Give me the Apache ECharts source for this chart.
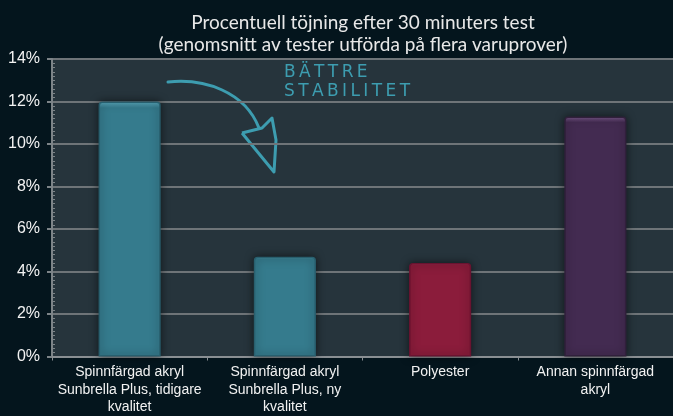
<!DOCTYPE html>
<html>
<head>
<meta charset="utf-8">
<script src="https://cdn.jsdelivr.net/npm/echarts@6/dist/echarts.min.js"></script>
<style>
html,body{margin:0;padding:0;background:#04151d;}
#c{width:673px;height:416px;}
</style>
</head>
<body>
<div id="c"></div>
<script>
const titleLines = ['Procentuell töjning efter 30 minuters test', '(genomsnitt av tester utförda på flera varuprover)'];
const categories = ['Spinnfärgad akryl\nSunbrella Plus, tidigare\nkvalitet', 'Spinnfärgad akryl\nSunbrella Plus, ny\nkvalitet', 'Polyester', 'Annan spinnfärgad\nakryl'];
const values = [12.0, 4.7, 4.4, 11.3];
const yTicks = [0, 2, 4, 6, 8, 10, 12, 14];
const annotation = ['BÄTTRE', 'STABILITET'];

const palette = [
  ['#285f6e', '#357b8d', '#5aa9bd'],
  ['#285f6e', '#357b8d', '#5aa9bd'],
  ['#6a1330', '#8b1c3b', '#c04565'],
  ['#30203b', '#432b51', '#7a5a8c']
];

function barStyle(p) {
  return {
    color: {
      type: 'linear', x: 0, y: 0, x2: 0, y2: 1,
      colorStops: [
        {offset: 0, color: p[2]},
        {offset: 0.025, color: p[1]},
        {offset: 1, color: p[1]}
      ]
    },
    borderColor: p[0],
    borderWidth: 1.5,
    borderRadius: [3, 3, 0, 0],
    shadowColor: 'rgba(0,0,0,0.55)',
    shadowBlur: 8
  };
}

const spaced = s => s.split('').join('\u2009');

const chart = echarts.init(document.getElementById('c'));
chart.setOption({
  backgroundColor: '#04151d',
  animation: false,
  title: {
    text: titleLines.join('\n'),
    left: 358, top: 7, textAlign: 'center',
    textStyle: {color: '#e8e8e8', fontFamily: 'Lato', fontWeight: 'normal', fontSize: 19, lineHeight: 22}
  },
  grid: {left: 52, right: 0, top: 59, bottom: 57, show: true, backgroundColor: '#26343c', borderWidth: 0},
  xAxis: {
    type: 'category',
    data: categories,
    axisLine: {lineStyle: {color: '#8a8f93', width: 2}},
    axisTick: {show: true, length: 4, lineStyle: {color: '#8a8f93'}},
    axisLabel: {color: '#f2f2f2', fontFamily: 'Liberation Sans', fontSize: 14, lineHeight: 17.5, interval: 0, margin: 7}
  },
  yAxis: [{
    type: 'value', min: yTicks[0], max: yTicks[yTicks.length - 1], interval: 2,
    axisLine: {show: true, lineStyle: {color: '#7d8488', width: 2}},
    axisTick: {show: true, length: 5, lineStyle: {color: '#7d8488', width: 2}},
    axisLabel: {color: '#f2f2f2', fontFamily: 'Liberation Sans', fontSize: 16, formatter: '{value}%', margin: 12},
    splitLine: {lineStyle: {color: '#6e7478', width: 2}}
  }, {
    type: 'value', position: 'left', min: yTicks[0], max: yTicks[yTicks.length - 1], interval: 2,
    axisLine: {show: false},
    axisTick: {show: false, inside: true},
    minorTick: {show: true, splitNumber: 10, length: 3, lineStyle: {color: '#7d8488', width: 1}},
    axisLabel: {show: false},
    splitLine: {show: false}
  }],
  series: [{
    type: 'bar',
    barWidth: '40%',
    data: values.map((v, i) => ({value: v, itemStyle: barStyle(palette[i])})),
    z: 3
  }],
  graphic: [
    {
      type: 'text', left: 284, top: 63,
      style: {text: annotation.map(spaced).join('\n'), fill: '#3d9db0', font: '17px "DejaVu Sans"', lineHeight: 19}
    },
    {
      type: 'bezierCurve',
      shape: {x1: 168, y1: 82, cpx1: 205, cpy1: 78, cpx2: 245, cpy2: 92, x2: 259, y2: 128},
      style: {stroke: '#3d9db0', lineWidth: 3, fill: null, lineCap: 'round'}
    },
    {
      type: 'polyline',
      shape: {points: [[242,133],[262,128],[272,118],[276,140],[274,172],[242,133]]},
      style: {stroke: '#3d9db0', lineWidth: 3, fill: null, lineJoin: 'round'}
    }
  ]
});
</script>
</body>
</html>
